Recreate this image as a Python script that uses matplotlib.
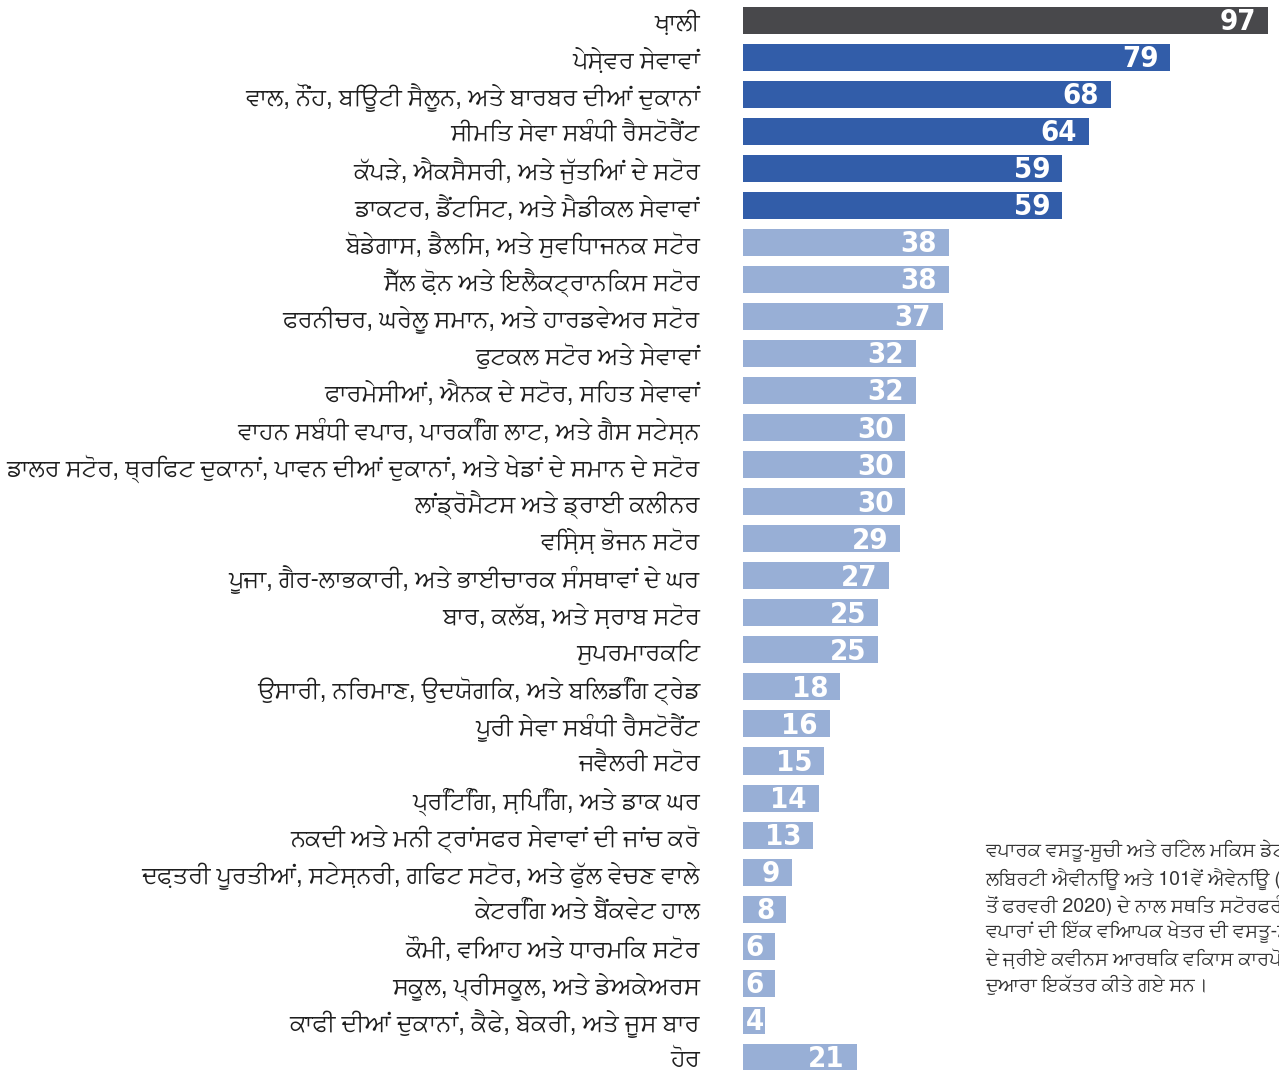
import matplotlib
matplotlib.use("Agg")
import matplotlib.pyplot as plt
from matplotlib import font_manager
from matplotlib.font_manager import FontProperties
from matplotlib.ft2font import FT2Font

# Categories and counts, top to bottom as they appear in the chart
labels = [
    "ਖ਼ਾਲੀ",
    "ਪੇਸ਼ੇਵਰ ਸੇਵਾਵਾਂ",
    "ਵਾਲ, ਨੌਂਹ, ਬਿਊਟੀ ਸੈਲੂਨ, ਅਤੇ ਬਾਰਬਰ ਦੀਆਂ ਦੁਕਾਨਾਂ",
    "ਸੀਮਿਤ ਸੇਵਾ ਸਬੰਧੀ ਰੈਸਟੋਰੈਂਟ",
    "ਕੱਪੜੇ, ਐਕਸੈਸਰੀ, ਅਤੇ ਜੁੱਤਿਆਂ ਦੇ ਸਟੋਰ",
    "ਡਾਕਟਰ, ਡੈਂਟਿਸਟ, ਅਤੇ ਮੈਡੀਕਲ ਸੇਵਾਵਾਂ",
    "ਬੋਡੇਗਾਸ, ਡੈਲਿਸ, ਅਤੇ ਸੁਵਿਧਾਜਨਕ ਸਟੋਰ",
    "ਸੈੱਲ ਫ਼ੋਨ ਅਤੇ ਇਲੈਕਟ੍ਰਾਨਿਕਸ ਸਟੋਰ",
    "ਫਰਨੀਚਰ, ਘਰੇਲੂ ਸਮਾਨ, ਅਤੇ ਹਾਰਡਵੇਅਰ ਸਟੋਰ",
    "ਫੁਟਕਲ ਸਟੋਰ ਅਤੇ ਸੇਵਾਵਾਂ",
    "ਫਾਰਮੇਸੀਆਂ, ਐਨਕ ਦੇ ਸਟੋਰ, ਸਿਹਤ ਸੇਵਾਵਾਂ",
    "ਵਾਹਨ ਸਬੰਧੀ ਵਪਾਰ, ਪਾਰਕਿੰਗ ਲਾਟ, ਅਤੇ ਗੈਸ ਸਟੇਸ਼ਨ",
    "ਡਾਲਰ ਸਟੋਰ, ਥ੍ਰਿਫਟ ਦੁਕਾਨਾਂ, ਪਾਵਨ ਦੀਆਂ ਦੁਕਾਨਾਂ, ਅਤੇ ਖੇਡਾਂ ਦੇ ਸਮਾਨ ਦੇ ਸਟੋਰ",
    "ਲਾਂਡ੍ਰੋਮੈਟਸ ਅਤੇ ਡ੍ਰਾਈ ਕਲੀਨਰ",
    "ਵਿਸ਼ੇਸ਼ ਭੋਜਨ ਸਟੋਰ",
    "ਪੂਜਾ, ਗੈਰ-ਲਾਭਕਾਰੀ, ਅਤੇ ਭਾਈਚਾਰਕ ਸੰਸਥਾਵਾਂ ਦੇ ਘਰ",
    "ਬਾਰ, ਕਲੱਬ, ਅਤੇ ਸ਼ਰਾਬ ਸਟੋਰ",
    "ਸੁਪਰਮਾਰਕਿਟ",
    "ਉਸਾਰੀ, ਨਿਰਮਾਣ, ਉਦਯੋਗਿਕ, ਅਤੇ ਬਿਲਡਿੰਗ ਟ੍ਰੇਡ",
    "ਪੂਰੀ ਸੇਵਾ ਸਬੰਧੀ ਰੈਸਟੋਰੈਂਟ",
    "ਜਵੈਲਰੀ ਸਟੋਰ",
    "ਪ੍ਰਿੰਟਿੰਗ, ਸ਼ਿਪਿੰਗ, ਅਤੇ ਡਾਕ ਘਰ",
    "ਨਕਦੀ ਅਤੇ ਮਨੀ ਟ੍ਰਾਂਸਫਰ ਸੇਵਾਵਾਂ ਦੀ ਜਾਂਚ ਕਰੋ",
    "ਦਫ਼ਤਰੀ ਪੂਰਤੀਆਂ, ਸਟੇਸ਼ਨਰੀ, ਗਿਫਟ ਸਟੋਰ, ਅਤੇ ਫੁੱਲ ਵੇਚਣ ਵਾਲੇ",
    "ਕੇਟਰਿੰਗ ਅਤੇ ਬੈਂਕਵੇਟ ਹਾਲ",
    "ਕੌਮੀ, ਵਿਆਹ ਅਤੇ ਧਾਰਮਿਕ ਸਟੋਰ",
    "ਸਕੂਲ, ਪ੍ਰੀਸਕੂਲ, ਅਤੇ ਡੇਅਕੇਅਰਸ",
    "ਕਾਫੀ ਦੀਆਂ ਦੁਕਾਨਾਂ, ਕੈਫੇ, ਬੇਕਰੀ, ਅਤੇ ਜੂਸ ਬਾਰ",
    "ਹੋਰ",
]
values = [97, 79, 68, 64, 59, 59, 38, 38, 37, 32, 32, 30, 30, 30, 29,
          27, 25, 25, 18, 16, 15, 14, 13, 9, 8, 6, 6, 4, 21]
# group of each bar: 0 = vacant, 1 = top categories, 2 = the rest
groups = [0] + [1] * 5 + [2] * 23

note_lines = [
    "ਵਪਾਰਕ ਵਸਤੂ-ਸੂਚੀ ਅਤੇ ਰਿਟੇਲ ਮਿਕਸ ਡੇਟਾ",
    "ਲਿਬਰਟੀ ਐਵੀਨਿਊ ਅਤੇ 101ਵੇਂ ਐਵੇਨਿਊ (ਦਸੰਬਰ 2019",
    "ਤੋਂ ਫਰਵਰੀ 2020) ਦੇ ਨਾਲ ਸਥਿਤ ਸਟੋਰਫਰੰਟ",
    "ਵਪਾਰਾਂ ਦੀ ਇੱਕ ਵਿਆਪਕ ਖੇਤਰ ਦੀ ਵਸਤੂ-ਸੂਚੀ",
    "ਦੇ ਜ਼ਰੀਏ ਕਵੀਨਸ ਆਰਥਿਕ ਵਿਕਾਸ ਕਾਰਪੋਰੇਸ਼ਨ",
    "ਦੁਆਰਾ ਇਕੱਤਰ ਕੀਤੇ ਗਏ ਸਨ।",
]

group_colors = ["#48484b", "#325da9", "#98afd6"]


# installed fonts that actually have Gurmukhi glyphs, proportional ones first
def gurmukhi_fonts():
    found = []
    for f in font_manager.fontManager.ttflist:
        try:
            if 0x0A15 in FT2Font(f.fname).get_charmap():
                found.append(f)
        except Exception:
            pass
    found.sort(key=lambda f: ("mono" in (f.name + f.fname).lower(),
                              "sans" not in (f.name + f.fname).lower()))
    return [f.name for f in found]


def narrow_bold_font():
    for f in font_manager.fontManager.ttflist:
        n = f.fname.lower()
        if ("narrow" in n or "condensed" in n) and "bold" in n and "italic" not in n and "oblique" not in n:
            return FontProperties(fname=f.fname)
    return FontProperties(family="DejaVu Sans", weight="bold", stretch="condensed")


gur = []
for name in gurmukhi_fonts():
    if name not in gur:
        gur.append(name)
plt.rcParams["font.family"] = gur[:1] + ["Noto Sans", "DejaVu Sans"]

num_font = narrow_bold_font()
num_font.set_size(21)

W, H, DPI = 1279, 1070, 100
fig = plt.figure(figsize=(W / DPI, H / DPI), dpi=DPI)

# axes starts at the bars' left edge and runs to the right edge of the picture
left_px = 743
px_per_unit = 5.41
pitch = 37.04
first_center = 20.2
ax = fig.add_axes([left_px / W, 0, 1 - left_px / W, 1])
ax.set_xlim(0, (W - left_px) / px_per_unit)
ax.set_ylim((H - first_center) / pitch, -first_center / pitch)

y = list(range(len(values)))
colors = [group_colors[g] for g in groups]
ax.barh(y, values, height=0.73, color=colors, linewidth=0)

pad = 12 / px_per_unit
for yi, v in zip(y, values):
    if v >= 6:
        ax.text(v - pad, yi - 0.03, str(v), ha="right", va="center_baseline",
                color="white", fontproperties=num_font)
    else:
        ax.text(0.55, yi - 0.03, str(v), ha="left", va="center_baseline",
                color="white", fontproperties=num_font)

ax.set_yticks(y)
ax.set_yticklabels(labels, fontsize=17.4, color="#1e1e1e")
ax.tick_params(axis="y", length=0, pad=31)
ax.tick_params(axis="x", bottom=False, labelbottom=False)
for s in ax.spines.values():
    s.set_visible(False)

fig.text(985 / W, 1 - 840 / H, "\n".join(note_lines), ha="left", va="top",
         fontsize=14, color="#333333", linespacing=1.30)

fig.savefig("out.png", dpi=DPI)
